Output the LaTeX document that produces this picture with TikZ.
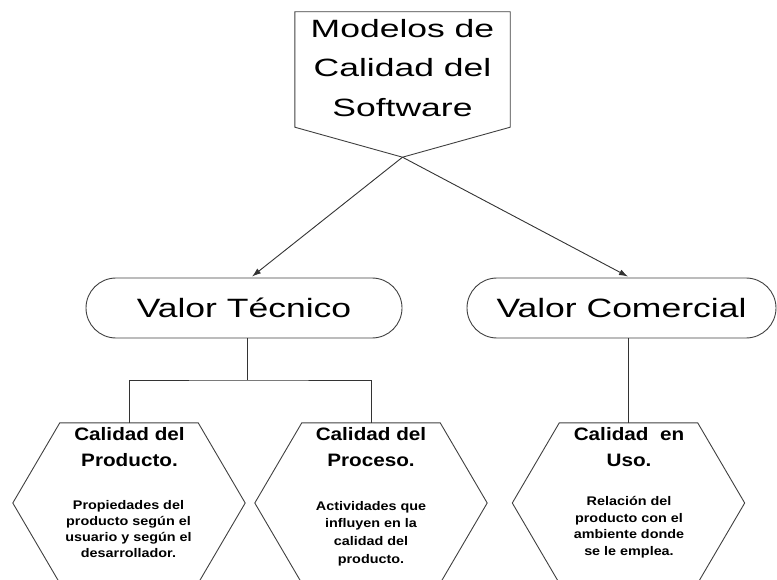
\documentclass[tikz,border=0pt]{standalone}
\usepackage{fontspec}
\setmainfont{Liberation Sans}
\newfontfamily\topfont[FakeStretch=1.42]{Liberation Sans}
\newfontfamily\valfont[FakeStretch=1.34]{Liberation Sans}
\newfontfamily\hexfont[FakeStretch=1.15]{Liberation Sans}
\usetikzlibrary{shapes.misc,calc,arrows.meta}
\tikzset{
  conn/.style={draw=black!80, line width=0.9pt},
  arr/.style={conn, -{Latex[length=9pt,width=6pt]}},
  outline/.style={draw=black!75, line width=0.9pt},
  stadium/.style={rounded rectangle, outline, minimum height=60pt, inner sep=0pt,
    font=\valfont\fontsize{26.5}{30}\selectfont},
  hexbox/.style={minimum width=138pt, minimum height=160pt, inner sep=0pt},
  titletext/.style={font=\hexfont\bfseries\fontsize{18}{26}\selectfont, align=center, inner sep=0pt, anchor=north},
  bodytext/.style={font=\hexfont\bfseries\fontsize{12.5}{16}\selectfont, align=center, inner sep=0pt, anchor=north},
}
\begin{document}
\begin{tikzpicture}[x=1pt,y=-1pt]
\useasboundingbox (0,0) rectangle (777,580);
\clip (0,0) rectangle (777,580);
% top off-page connector
\node[minimum width=215pt, minimum height=115pt, inner sep=0pt] (top) at (402.5,69.5) {};
\coordinate (tip) at ($(top.south)+(0,30)$);
\draw[outline] (top.south west) -- (top.north west) -- (top.north east) -- (top.south east) -- (tip) -- cycle;
\node[font=\topfont\fontsize{25}{39.5}\selectfont, align=center, inner sep=0pt, anchor=north] (toptext) at (402.5,19) {Modelos de\\Calidad del\\Software};
% value nodes
\node[stadium, minimum width=316pt] (vt) at (244,308) {Valor Técnico};
\node[stadium, minimum width=309pt] (vc) at (621.5,308) {Valor Comercial};
\draw[arr] (tip) -- ($(vt.north)+(8,-1)$);
\draw[arr] (tip) -- ($(vc.north)+(6.5,-1)$);
% hexagons
\node[hexbox] (h1) at (129,503) {};
\node[hexbox] (h2) at (371,503) {};
\node[hexbox] (h3) at (628.5,503) {};
\foreach \h in {h1,h2,h3}{
  \draw[outline] (\h.north west) -- (\h.north east) -- ($(\h.east)+(47,0)$) -- (\h.south east)
    -- (\h.south west) -- ($(\h.west)+(-47,0)$) -- cycle;
}
% connectors
\coordinate (j) at (247,380);
\draw[conn] (vt.south -| j) -- (j);
\draw[conn] (h1.north) |- (j) -| (h2.north);
\draw[conn] (vc.south -| h3.north) -- (h3.north);
% hexagon texts
\node[titletext] (t1) at (129.5,427) {Calidad del\\Producto.};
\node[bodytext] (b1) at (128.5,500) {Propiedades del\\producto según el\\usuario y según el\\desarrollador.};
\node[titletext] (t2) at (371,427) {Calidad del\\Proceso.};
\node[bodytext, font=\hexfont\bfseries\fontsize{12.5}{17.7}\selectfont] (b2) at (371,501) {Actividades que\\influyen en la\\calidad del\\producto.};
\node[titletext] (t3) at (629,427) {Calidad\ \ en\\Uso.};
\node[bodytext, font=\hexfont\bfseries\fontsize{12.5}{16.7}\selectfont] (b3) at (629,496) {Relación del\\producto con el\\ambiente donde\\se le emplea.};
\end{tikzpicture}
\end{document}
